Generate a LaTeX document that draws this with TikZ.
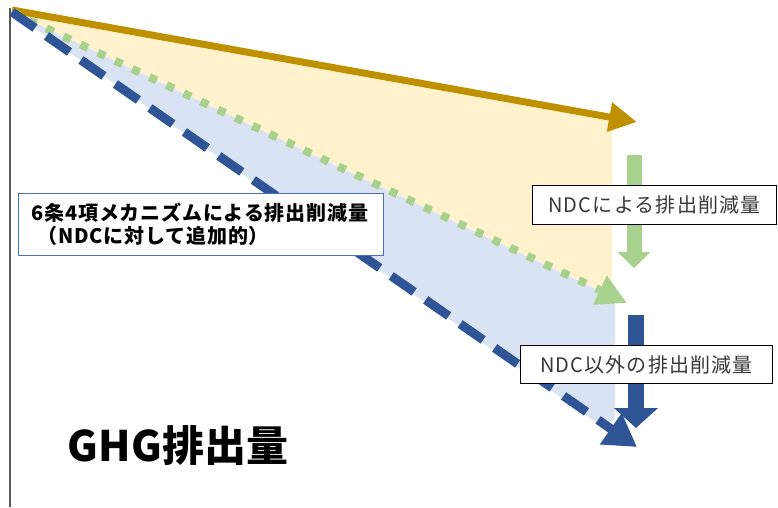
\documentclass[tikz,border=0pt]{standalone}
\usepackage{fontspec}
\setmainfont{Noto Sans CJK JP}
\usetikzlibrary{arrows.meta}
\definecolor{gold}{HTML}{BF9000}
\definecolor{yfill}{HTML}{FFF2CC}
\definecolor{bfill}{HTML}{DAE3F3}
\definecolor{lgreen}{HTML}{A9D18E}
\definecolor{dblue}{HTML}{2F5597}
\definecolor{axisgray}{HTML}{595959}
\definecolor{boxblue}{HTML}{4472C4}
\begin{document}
\begin{tikzpicture}[x=1pt,y=-1pt,
  labelbox/.style={draw=black,fill=white,line width=1pt,inner sep=0pt,minimum height=39pt,font=\fontsize{20}{23}\selectfont\addfontfeature{LetterSpace=6},text=black!78},
  goldarrow/.style={gold,line width=7pt,-{Triangle[length=28pt,width=28pt]}},
  greenarrow/.style={lgreen,line width=8pt,dash pattern=on 8pt off 11pt,-{Triangle[length=30pt,width=30pt]}},
  bluearrow/.style={dblue,line width=9pt,dash pattern=on 28pt off 14pt,-{Triangle[length=32pt,width=36pt]}},
  downgreen/.style={lgreen,line width=15pt,-{Triangle[length=16pt,width=32pt]}},
  downblue/.style={dblue,line width=16pt,-{Triangle[length=20pt,width=43pt]}}]
\useasboundingbox (0,0) rectangle (778,507);
% fills
\fill[yfill] (12,12) -- (612,117.7) -- (612,296) -- cycle;
\fill[bfill] (12,12) -- (615,298) -- (615,420) -- (600,425) -- cycle;
% axis
\coordinate (o) at (12,12);
\coordinate (ab) at (10,507);
\draw[axisgray,line width=2pt] (10,8) -- (ab);
% lines
\coordinate (gt) at (637,122);
\coordinate (grt) at (627,303);
\coordinate (bt) at (637,447);
\draw[goldarrow] (12,10) -- (gt);
\draw[greenarrow] (o) -- (grt);
\draw[bluearrow] (o) -- (bt);
% down arrows
\coordinate (g1) at (634,155);
\coordinate (g2) at (634,268);
\draw[downgreen] (g1) -- (g2);
\coordinate (b1) at (636,315);
\coordinate (b2) at (636,428);
\draw[downblue] (b1) -- (b2);
% labels
\node[labelbox,minimum width=244pt,anchor=north west] (ndc) at (532,185) {NDCによる排出削減量};
\node[labelbox,minimum width=252pt,minimum height=38pt,anchor=north west] (other) at (520,345) {NDC以外の排出削減量};
\node[draw=boxblue,fill=white,line width=1pt,anchor=north west,minimum width=365pt,minimum height=62pt,inner sep=0pt] (mech) at (18,193) {};
\node[font=\fontsize{20}{23}\selectfont\bfseries\addfontfeature{LetterSpace=4},anchor=west,align=left] (mtext) at (28,224) {6条4項メカニズムによる排出削減量\\\hspace*{6pt}（NDCに対して追加的）};
\node[font=\fontsize{42}{46}\selectfont\bfseries,anchor=center] (ghg) at (178,446) {GHG排出量};
\end{tikzpicture}
\end{document}
